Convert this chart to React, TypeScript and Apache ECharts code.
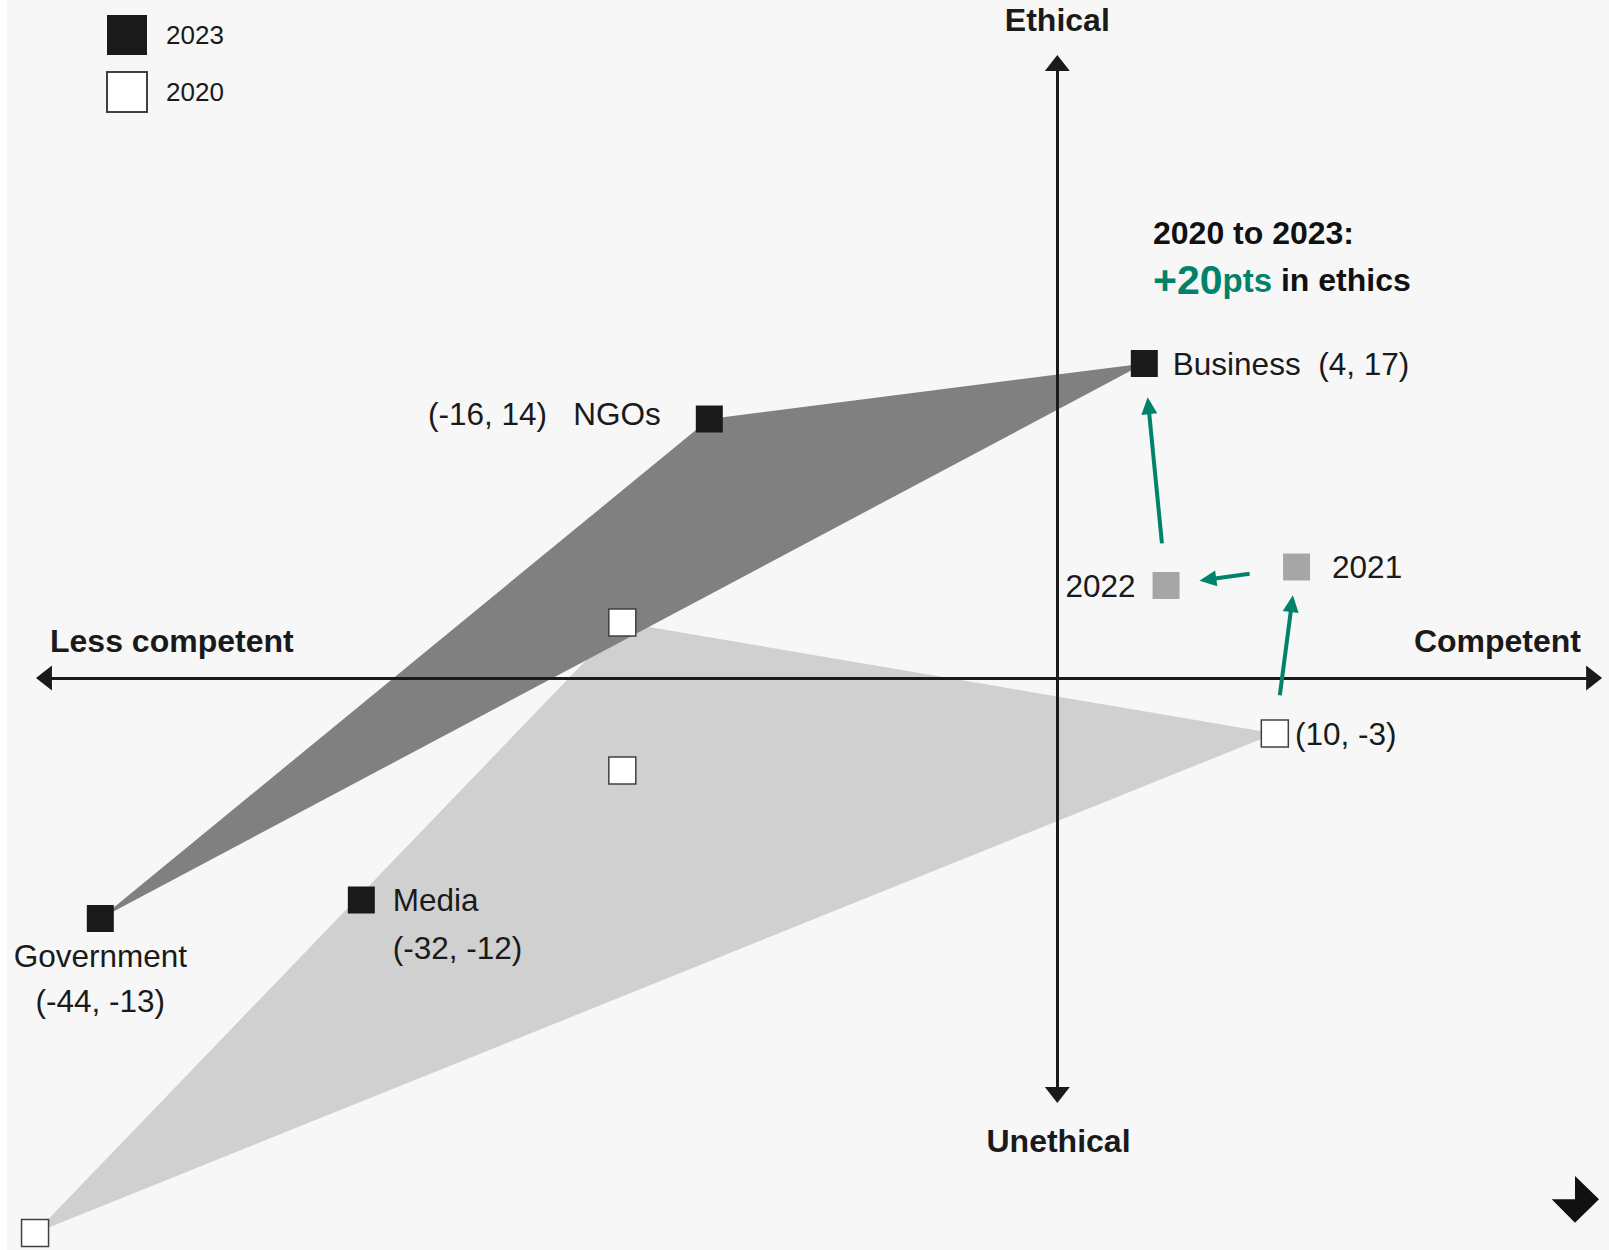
import React, { useEffect, useRef } from "react";
import * as echarts from "echarts";

// ---------- data ----------
const groups = ["Business", "NGOs", "Media", "Government"];
const competence2023 = [4, -16, -32, -44];
const ethics2023 = [17, 14, -12, -13];
const competence2020 = [10, -20, -20, -47];
const ethics2020 = [-3, 3, -5, -30];
const trendYears = ["2021", "2022"];
const trendCompetence = [11, 5];
const trendEthics = [6, 5];
const legendYears = ["2023", "2020"];
const triangleMembers = ["NGOs", "Business", "Government"];
const axisTitleLeft = "Less competent";
const axisTitleRight = "Competent";
const axisTitleTop = "Ethical";
const axisTitleBottom = "Unethical";
const headlineLine1 = "2020 to 2023:";
const headlineGain = "+20";
const headlineUnit = "pts";
const headlineRest = " in ethics";

// ---------- layout / style ----------
const X_MIN = -48;
const X_MAX = 25.3;
const Y_MIN = -30.8;
const Y_MAX = 36;
const H_AXIS = [-46.59, 24.68];
const V_AXIS = [-22.54, 33.24];
const arrowSpans = [
  [0.23, 0.78],
  [0.36, 0.68],
  [0.19, 0.81],
];
const GREEN = "#00826b";
const INK = "#1a1a1a";
const FONT = "'Liberation Sans', Arial, Helvetica, sans-serif";
const NB = "\u00A0";

const pair = (x: number, y: number) => `(${x}, ${y})`;

const labelBase = {
  show: true,
  fontSize: 31.5,
  color: INK,
  fontFamily: FONT,
};

function label2023(name: string, x: number, y: number): any {
  switch (name) {
    case "Business":
      return { ...labelBase, position: "right", distance: 15, formatter: `${name}${NB}${NB}${pair(x, y)}` };
    case "NGOs":
      return { ...labelBase, position: "left", distance: 35, offset: [0, -5], formatter: `${pair(x, y)}${NB}${NB}${NB}${name}` };
    case "Media":
      return { ...labelBase, position: "right", distance: 18, lineHeight: 48, align: "left", offset: [0, 24], formatter: `${name}\n${pair(x, y)}` };
    default:
      return { ...labelBase, position: "bottom", distance: 1, lineHeight: 45, align: "center", formatter: `${name}\n${pair(x, y)}` };
  }
}

function buildOption(): any {
  const data2023 = groups.map((g, i) => ({
    name: g,
    value: [competence2023[i], ethics2023[i]],
    label: label2023(g, competence2023[i], ethics2023[i]),
  }));
  const data2020 = groups.map((g, i) => ({
    name: g,
    value: [competence2020[i], ethics2020[i]],
    label:
      g === "Business"
        ? { ...labelBase, position: "right", distance: 6, formatter: pair(competence2020[i], ethics2020[i]) }
        : { show: false },
  }));
  const dataTrend = trendYears.map((yr, i) => ({
    name: yr,
    value: [trendCompetence[i], trendEthics[i]],
    label: { ...labelBase, position: i === 0 ? "right" : "left", distance: i === 0 ? 22 : 17, formatter: yr },
  }));

  const bi = groups.indexOf("Business");
  const path = [
    [competence2020[bi], ethics2020[bi]],
    [trendCompetence[0], trendEthics[0]],
    [trendCompetence[1], trendEthics[1]],
    [competence2023[bi], ethics2023[bi]],
  ];
  const lerp = (a: number[], b: number[], t: number) => [a[0] + (b[0] - a[0]) * t, a[1] + (b[1] - a[1]) * t];
  const arrows = arrowSpans.map(([s, e], k) => [
    { coord: lerp(path[k], path[k + 1], s) },
    { coord: lerp(path[k], path[k + 1], e) },
  ]);

  const triangle = (xs: number[], ys: number[], color: string, z: number) => ({
    type: "custom",
    silent: true,
    z,
    data: [[0, 0]],
    renderItem: (_p: any, api: any) => ({
      type: "polygon",
      shape: {
        points: triangleMembers.map((n) => {
          const i = groups.indexOf(n);
          return api.coord([xs[i], ys[i]]);
        }),
      },
      style: { fill: color },
    }),
  });

  const titleStyle = { fontSize: 32, fontWeight: "bold", fill: INK, fontFamily: FONT };

  return {
    animation: false,
    backgroundColor: "#f7f7f7",
    grid: { left: 6.3, right: 1.4, top: 12, bottom: 2.2, containLabel: false },
    xAxis: { type: "value", min: X_MIN, max: X_MAX, show: false },
    yAxis: { type: "value", min: Y_MIN, max: Y_MAX, show: false },
    legend: {
      data: legendYears,
      orient: "vertical",
      left: 99,
      top: 15,
      padding: 0,
      itemWidth: 40,
      itemHeight: 40,
      itemGap: 16,
      icon: "rect",
      selectedMode: false,
      textStyle: { fontSize: 26, color: INK, fontFamily: FONT, padding: [2, 0, 0, 14] },
    },
    graphic: [
      {
        type: "text",
        x: 1146,
        y: 209.5,
        style: {
          text: `{b|${headlineLine1}}\n{g|${headlineGain}}{s|${headlineUnit}}{b|${headlineRest.replace(/ /g, NB)}}`,
          align: "left",
          verticalAlign: "top",
          rich: {
            b: { fontSize: 32, fontWeight: "bold", fill: "#111", fontFamily: FONT, lineHeight: 47 },
            g: { fontSize: 41, fontWeight: "bold", fill: GREEN, fontFamily: FONT, lineHeight: 47 },
            s: { fontSize: 33, fontWeight: "bold", fill: GREEN, fontFamily: FONT, lineHeight: 47 },
          },
        },
      },
      { type: "text", x: 43, y: 640.5, style: { ...titleStyle, text: axisTitleLeft, align: "left", verticalAlign: "middle" } },
      { type: "text", x: 1574, y: 640.8, style: { ...titleStyle, text: axisTitleRight, align: "right", verticalAlign: "middle" } },
      { type: "text", x: 1050.3, y: 19.5, style: { ...titleStyle, text: axisTitleTop, align: "center", verticalAlign: "middle" } },
      { type: "text", x: 1051.5, y: 1141.4, style: { ...titleStyle, text: axisTitleBottom, align: "center", verticalAlign: "middle" } },
      {
        type: "polygon",
        shape: {
          points: [
            [1544.7, 1199.3],
            [1568, 1199.3],
            [1568, 1176],
            [1592, 1199.3],
            [1568, 1222.7],
          ],
        },
        style: { fill: "#111" },
      },
    ],
    series: [
      triangle(competence2020, ethics2020, "#d0d0d0", 1),
      triangle(competence2023, ethics2023, "#808080", 1),
      {
        type: "scatter",
        name: "axes",
        data: [],
        silent: true,
        markLine: {
          silent: true,
          z: 3,
          symbol: ["triangle", "triangle"],
          symbolSize: [25, 16],
          label: { show: false },
          lineStyle: { color: INK, width: 3, type: "solid" },
          emphasis: { disabled: true },
          data: [
            [{ coord: [H_AXIS[0], 0] }, { coord: [H_AXIS[1], 0] }],
            [{ coord: [0, V_AXIS[1]] }, { coord: [0, V_AXIS[0]] }],
          ],
        },
      },
      {
        type: "scatter",
        name: "arrows",
        data: [],
        silent: true,
        markLine: {
          silent: true,
          z: 3,
          symbol: ["none", "triangle"],
          symbolSize: [16, 17],
          label: { show: false },
          lineStyle: { color: GREEN, width: 4, type: "solid" },
          emphasis: { disabled: true },
          data: arrows,
        },
      },
      {
        type: "scatter",
        name: "2020",
        symbol: "rect",
        symbolSize: 27,
        z: 4,
        itemStyle: { color: "#ffffff", borderColor: "#404040", borderWidth: 1.5, opacity: 1 },
        data: data2020,
      },
      {
        type: "scatter",
        name: "trend",
        symbol: "rect",
        symbolSize: 27,
        z: 4,
        itemStyle: { color: "#a6a6a6", opacity: 1 },
        data: dataTrend,
      },
      {
        type: "scatter",
        name: "2023",
        symbol: "rect",
        symbolSize: 27,
        z: 4,
        itemStyle: { color: INK, opacity: 1 },
        data: data2023,
      },
    ],
  };
}

export default function App() {
  const ref = useRef<HTMLDivElement>(null);
  useEffect(() => {
    if (!ref.current) return;
    const chart = echarts.init(ref.current, undefined, { renderer: "svg" });
    chart.setOption(buildOption());
    return () => chart.dispose();
  }, []);
  return (
    <div style={{ position: "absolute", left: 0, top: 0, width: 1609, height: 1250, background: "#ffffff", overflow: "hidden" }}>
      <div ref={ref} style={{ position: "absolute", left: 7, top: 0, width: 1602, height: 1250 }} />
    </div>
  );
}
